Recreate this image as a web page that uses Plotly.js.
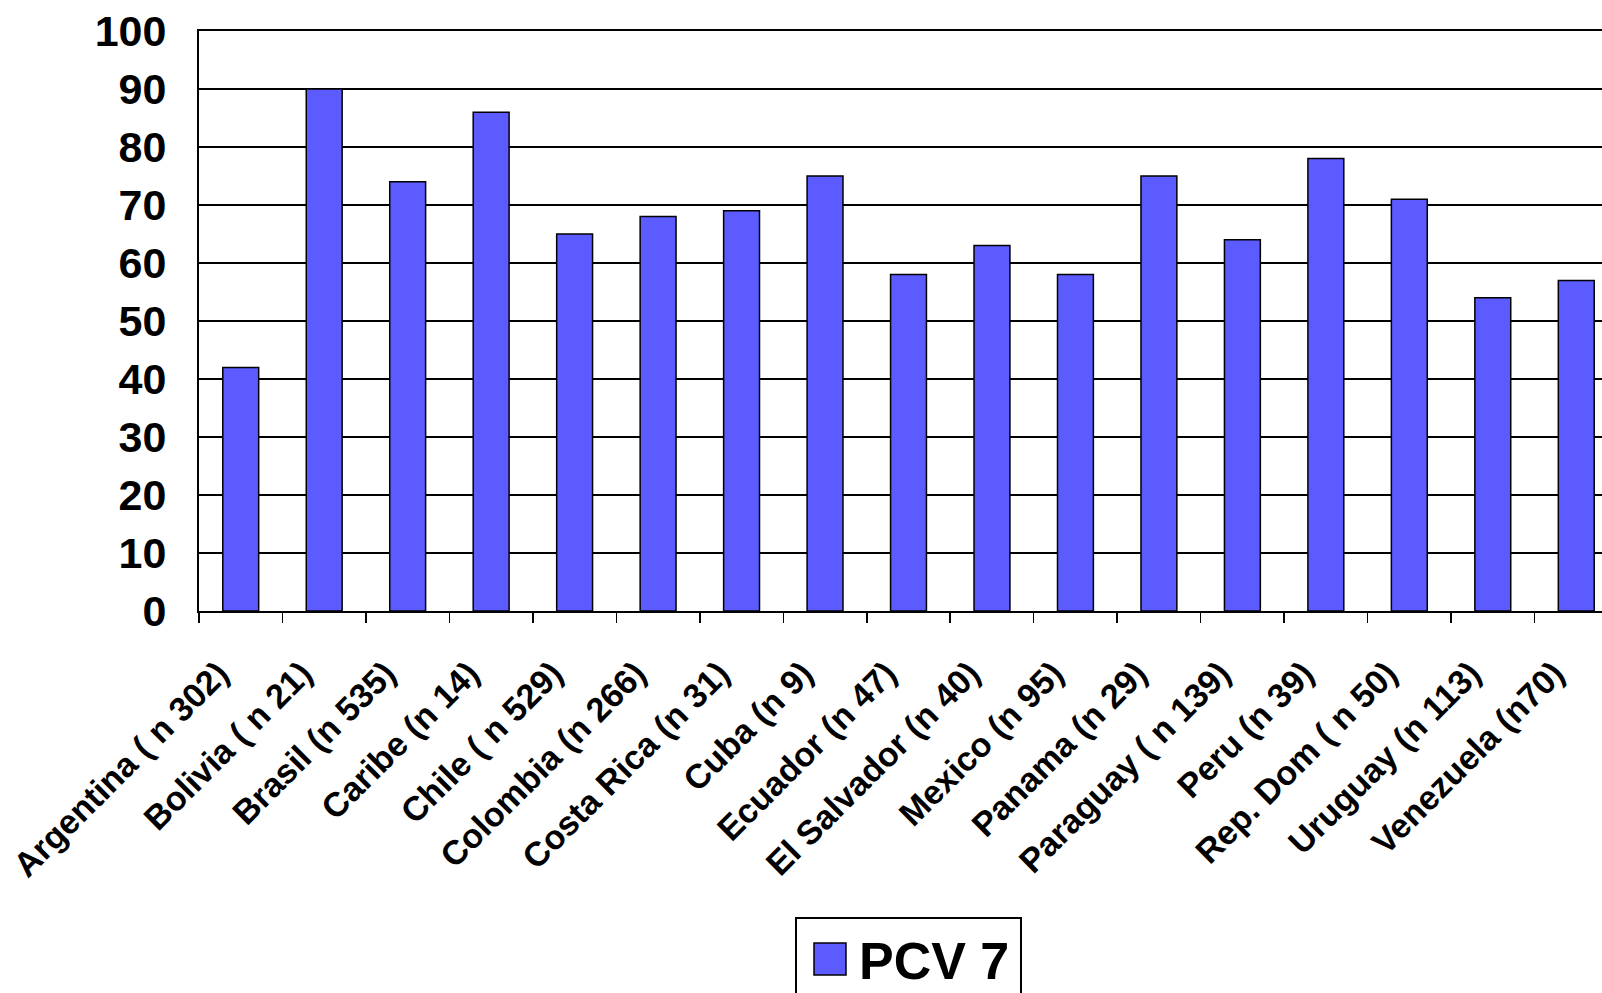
<!DOCTYPE html>
<html>
<head>
<meta charset="utf-8">
<script src="https://cdn.plot.ly/plotly-3.0.1.min.js"></script>
<style>
  html, body { margin: 0; padding: 0; overflow: hidden; background: #fff; }
  #chart { width: 1640px; height: 993px; }
</style>
</head>
<body>
<div id="chart"></div>
<script>
// Countries with sample sizes, and the PCV 7 percentage for each
const categories = [
  "Argentina ( n 302)", "Bolivia ( n 21)", "Brasil (n 535)", "Caribe (n 14)",
  "Chile ( n 529)", "Colombia (n 266)", "Costa Rica (n 31)", "Cuba (n 9)",
  "Ecuador (n 47)", "El Salvador (n 40)", "Mexico (n 95)", "Panama (n 29)",
  "Paraguay ( n 139)", "Peru (n 39)", "Rep. Dom ( n 50)", "Uruguay (n 113)",
  "Venezuela (n70)"
];
const pcv7 = [42, 90, 74, 86, 65, 68, 69, 75, 58, 63, 58, 75, 64, 78, 71, 54, 57];
const seriesName = "PCV 7";
const yTicks = [0, 10, 20, 30, 40, 50, 60, 70, 80, 90, 100];

const FONT = "Liberation Sans, Arial, sans-serif";

const trace = {
  type: "bar",
  name: seriesName,
  x: categories,
  y: pcv7,
  marker: { color: "#5b5bff", line: { color: "#000", width: 1.5 } },
  showlegend: true,
  hoverinfo: "x+y"
};

const layout = {
  width: 1640,
  height: 993,
  margin: { l: 199, r: 22, t: 31, b: 382, autoexpand: false },
  paper_bgcolor: "#fff",
  plot_bgcolor: "#fff",
  bargap: 0.57,
  font: { family: FONT, color: "#000" },
  xaxis: {
    type: "category",
    showline: true, linecolor: "#000", linewidth: 2, mirror: true,
    ticks: "outside", tickson: "boundaries", ticklen: 10, tickwidth: 1.5, tickcolor: "#000",
    tickangle: -45,
    ticklabelstandoff: 27,
    ticklabelshift: -22,
    tickfont: { family: FONT, size: 34, weight: "bold", color: "#000" },
    showgrid: false,
    automargin: false
  },
  yaxis: {
    range: [0, 100],
    tickvals: yTicks,
    ticktext: yTicks.map(String),
    showline: true, linecolor: "#000", linewidth: 2,
    ticks: "", ticklabelstandoff: 22,
    tickfont: { family: FONT, size: 43, weight: "bold", color: "#000" },
    showgrid: true, gridcolor: "#000", gridwidth: 2,
    zeroline: false,
    automargin: false
  },
  showlegend: true,
  legend: {
    x: 0.5, xanchor: "center",
    y: -0.527, yanchor: "top",
    orientation: "h",
    bgcolor: "#fff", bordercolor: "#000", borderwidth: 2,
    font: { family: FONT, size: 52, weight: "bold", color: "#000" },
    itemwidth: 52,
    entrywidth: 156
  }
};

Plotly.newPlot("chart", [trace], layout, { displayModeBar: false, staticPlot: true }).then(() => {
  // enlarge the legend swatch to a bold square
  document.querySelectorAll("#chart .legend .legendpoints path").forEach(p => {
    p.setAttribute("d", "M18,16H-14V-16H18Z");
  });
});
</script>
</body>
</html>
